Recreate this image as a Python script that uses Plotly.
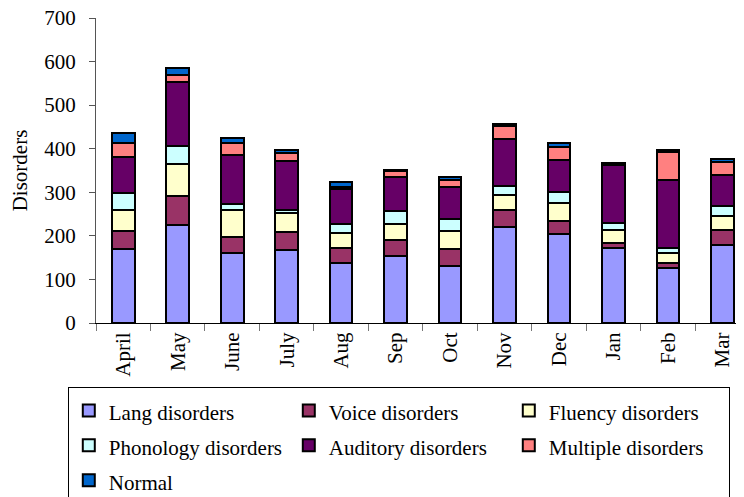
import plotly.graph_objects as go

months = ["April", "May", "June", "July", "Aug", "Sep", "Oct", "Nov", "Dec", "Jan", "Feb", "Mar"]

lang = [170, 225, 161, 167, 138, 153, 131, 221, 205, 172, 126, 178]
voice = [42, 66, 37, 43, 34, 38, 38, 38, 30, 11, 12, 36]
fluency = [48, 73, 62, 43, 34, 37, 43, 34, 41, 31, 23, 31]
phonology = [38, 43, 13, 7, 21, 30, 27, 21, 24, 16, 11, 24]
auditory = [84, 147, 112, 112, 80, 78, 74, 108, 74, 132, 156, 70]
multiple = [31, 15, 29, 18, 5, 13, 15, 29, 31, 3, 65, 30]
normal = [23, 17, 11, 7, 12, 2, 8, 6, 8, 3, 5, 8]

series = [
    ("Lang disorders", lang, "#9999FF"),
    ("Voice disorders", voice, "#993366"),
    ("Fluency disorders", fluency, "#FFFFCC"),
    ("Phonology disorders", phonology, "#CCFFFF"),
    ("Auditory disorders", auditory, "#660066"),
    ("Multiple disorders", multiple, "#FF8080"),
    ("Normal", normal, "#0066CC"),
]

FONT = "Liberation Serif, Times New Roman, serif"
FS = 21

fig = go.Figure()
for name, vals, color in series:
    fig.add_trace(go.Bar(
        x=months, y=vals,
        name="<span style='font-size:%dpx'>%s</span>" % (FS, name),
        marker=dict(color=color, line=dict(color="black", width=2)),
    ))

fig.update_layout(
    barmode="stack",
    bargap=0.585,
    width=744, height=497,
    margin=dict(l=88, r=0, t=10, b=182, autoexpand=False),
    paper_bgcolor="white", plot_bgcolor="white",
    font=dict(family=FONT, size=FS, color="black"),
    showlegend=True,
    legend=dict(
        orientation="h",
        x=-0.043, xanchor="left",
        y=-0.21, yanchor="top",
        bordercolor="black", borderwidth=1,
        font=dict(family=FONT, size=24.5, color="black"),
        entrywidth=175,
        traceorder="normal",
        itemclick=False,
    ),
    xaxis=dict(
        type="category",
        range=[-0.5, 11.54],
        showline=True, linecolor="black", linewidth=1,
        ticks="outside", tickson="boundaries", ticklen=7, tickcolor="#777",
        tickangle=-90,
        tickfont=dict(family=FONT, size=FS),
        ticklabeloverflow="allow",
        showgrid=False,
    ),
    yaxis=dict(
        range=[0, 700],
        tickvals=[0, 100, 200, 300, 400, 500, 600, 700],
        showline=True, linecolor="#555", linewidth=1,
        ticks="outside", ticklen=6, tickcolor="#555",
        ticklabelstandoff=9,
        ticklabeloverflow="allow",
        showgrid=False, zeroline=False,
        tickfont=dict(family=FONT, size=FS),
        title=dict(text="Disorders", font=dict(family=FONT, size=FS), standoff=12),
    ),
)

fig.write_html("out.html")
